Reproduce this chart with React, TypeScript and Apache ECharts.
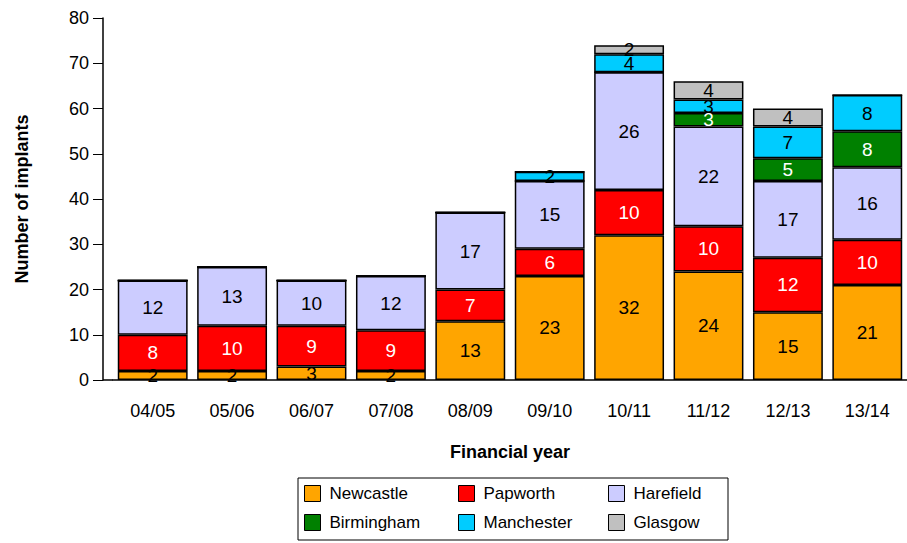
import { useEffect, useRef } from 'react';
import * as echarts from 'echarts';

const years = ['04/05', '05/06', '06/07', '07/08', '08/09', '09/10', '10/11', '11/12', '12/13', '13/14'];
const newcastle = [2, 2, 3, 2, 13, 23, 32, 24, 15, 21];
const papworth = [8, 10, 9, 9, 7, 6, 10, 10, 12, 10];
const harefield = [12, 13, 10, 12, 17, 15, 26, 22, 17, 16];
const birmingham = [0, 0, 0, 0, 0, 0, 0, 3, 5, 8];
const manchester = [0, 0, 0, 0, 0, 2, 4, 3, 7, 8];
const glasgow = [0, 0, 0, 0, 0, 0, 2, 4, 4, 0];

const seriesDefs = [
  { name: 'Newcastle', data: newcastle, color: '#FFA500', label: '#000' },
  { name: 'Papworth', data: papworth, color: '#FF0000', label: '#fff' },
  { name: 'Harefield', data: harefield, color: '#CCCCFF', label: '#000' },
  { name: 'Birmingham', data: birmingham, color: '#008000', label: '#fff' },
  { name: 'Manchester', data: manchester, color: '#00CCFF', label: '#000' },
  { name: 'Glasgow', data: glasgow, color: '#C0C0C0', label: '#000' },
];

const font = 'Arial, "Liberation Sans", sans-serif';
const legendCols = [304, 458, 608];
const legendRows = [485, 514];

export default function App() {
  const ref = useRef<HTMLDivElement>(null);

  useEffect(() => {
    if (!ref.current) return;
    const chart = echarts.init(ref.current, null, { renderer: 'svg' });
    chart.setOption({
      animation: false,
      textStyle: { fontFamily: font },
      grid: { left: 113, right: 0, top: 18, bottom: 163 },
      graphic: [
        {
          type: 'rect',
          shape: { x: 298, y: 478, width: 430, height: 62 },
          style: { fill: 'none', stroke: '#000', lineWidth: 1 },
        },
        {
          type: 'line',
          shape: { x1: 103, y1: 380, x2: 113, y2: 380 },
          style: { stroke: '#000', lineWidth: 1.5 },
        },
      ],
      legend: seriesDefs.map((s, i) => ({
        left: legendCols[i % 3],
        top: legendRows[Math.floor(i / 3)],
        padding: 0,
        itemWidth: 16,
        itemHeight: 16,
        icon: 'rect',
        itemStyle: { borderColor: '#000', borderWidth: 1 },
        textStyle: { fontSize: 17, color: '#000', fontFamily: font, padding: [0, 0, 0, 4] },
        data: [s.name],
      })),
      xAxis: {
        type: 'category',
        data: years,
        name: 'Financial year',
        nameLocation: 'middle',
        nameGap: 63,
        nameTextStyle: { fontSize: 18, fontWeight: 'bold', color: '#000' },
        axisLine: { lineStyle: { color: '#000', width: 1.5 } },
        axisTick: { show: false },
        axisLabel: { fontSize: 18, color: '#000', margin: 22 },
      },
      yAxis: {
        type: 'value',
        min: 0,
        max: 80,
        interval: 10,
        offset: 10,
        name: 'Number of implants',
        nameLocation: 'middle',
        nameGap: 72,
        nameTextStyle: { fontSize: 18, fontWeight: 'bold', color: '#000' },
        axisLine: { show: true, lineStyle: { color: '#000', width: 1.5 } },
        axisTick: { show: true, length: 10, lineStyle: { color: '#000' } },
        axisLabel: { fontSize: 18, color: '#000', margin: 14 },
        splitLine: { show: false },
      },
      series: seriesDefs.map((s) => ({
        name: s.name,
        type: 'bar',
        stack: 'total',
        barWidth: '88%',
        data: s.data,
        itemStyle: { color: s.color, borderColor: '#000', borderWidth: 1.5 },
        label: {
          show: true,
          position: 'inside',
          fontSize: 19,
          color: s.label,
          formatter: (p: { value: number }) => (p.value ? String(p.value) : ''),
        },
      })),
    });
    return () => chart.dispose();
  }, []);

  return <div ref={ref} style={{ position: 'absolute', left: 0, top: 0, width: 907, height: 543 }} />;
}
